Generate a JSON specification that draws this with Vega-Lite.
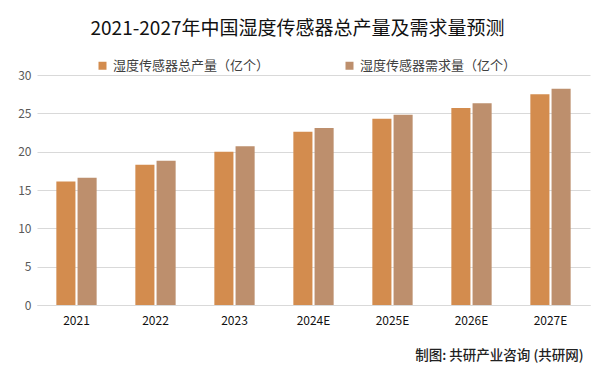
{
  "$schema": "https://vega.github.io/schema/vega-lite/v6.json",
  "width": 553,
  "height": 230,
  "autosize": {"type": "none"},
  "padding": {"left": 37, "top": 75, "right": 13, "bottom": 67},
  "background": "#ffffff",
  "title": {
    "text": "2021-2027年中国湿度传感器总产量及需求量预测",
    "font": "Noto Sans CJK SC",
    "fontSize": 19,
    "fontWeight": "normal",
    "color": "#111111",
    "anchor": "middle",
    "dx": -16,
    "offset": 20
  },
  "data": {
    "values": [
      {"year": "2021", "series": "湿度传感器总产量（亿个）", "value": 16.1},
      {"year": "2021", "series": "湿度传感器需求量（亿个）", "value": 16.6},
      {"year": "2022", "series": "湿度传感器总产量（亿个）", "value": 18.3},
      {"year": "2022", "series": "湿度传感器需求量（亿个）", "value": 18.8},
      {"year": "2023", "series": "湿度传感器总产量（亿个）", "value": 20.0},
      {"year": "2023", "series": "湿度传感器需求量（亿个）", "value": 20.7},
      {"year": "2024E", "series": "湿度传感器总产量（亿个）", "value": 22.6},
      {"year": "2024E", "series": "湿度传感器需求量（亿个）", "value": 23.1},
      {"year": "2025E", "series": "湿度传感器总产量（亿个）", "value": 24.3},
      {"year": "2025E", "series": "湿度传感器需求量（亿个）", "value": 24.8},
      {"year": "2026E", "series": "湿度传感器总产量（亿个）", "value": 25.7},
      {"year": "2026E", "series": "湿度传感器需求量（亿个）", "value": 26.3},
      {"year": "2027E", "series": "湿度传感器总产量（亿个）", "value": 27.5},
      {"year": "2027E", "series": "湿度传感器需求量（亿个）", "value": 28.2}
    ]
  },
  "mark": {"type": "bar"},
  "encoding": {
    "x": {
      "field": "year",
      "type": "nominal",
      "sort": null,
      "scale": {"paddingInner": 0.49, "paddingOuter": 0.245},
      "axis": {
        "title": "制图: 共研产业咨询 (共研网)",
        "titleAnchor": "end",
        "titleX": 546,
        "titleAlign": "right",
        "titleFont": "Noto Sans CJK SC",
        "titleFontSize": 13.5,
        "titleFontWeight": 500,
        "titleColor": "#222222",
        "titlePadding": 22,
        "labelAngle": 0,
        "labelFont": "Noto Sans CJK SC",
        "labelFontSize": 12,
        "labelColor": "#111111",
        "labelPadding": 10,
        "ticks": false,
        "domainColor": "#D9D9D9",
        "grid": false
      }
    },
    "xOffset": {
      "field": "series",
      "type": "nominal",
      "scale": {"paddingInner": 0.1}
    },
    "y": {
      "field": "value",
      "type": "quantitative",
      "scale": {"domain": [0, 30]},
      "axis": {
        "title": null,
        "values": [0, 5, 10, 15, 20, 25, 30],
        "labelFont": "Noto Sans CJK SC",
        "labelFontSize": 12,
        "labelColor": "#595959",
        "labelPadding": 6,
        "ticks": false,
        "domain": false,
        "gridColor": "#D9D9D9",
        "gridWidth": 1
      }
    },
    "color": {
      "field": "series",
      "type": "nominal",
      "scale": {"range": ["#D38C4E", "#BD8F6D"]},
      "legend": {
        "title": null,
        "orient": "none",
        "legendX": 59,
        "legendY": -16,
        "direction": "horizontal",
        "symbolType": "square",
        "symbolSize": 64,
        "symbolStrokeWidth": 0,
        "labelOffset": 4,
        "labelFont": "Noto Sans CJK SC",
        "labelFontSize": 13,
        "labelColor": "#404040",
        "labelLimit": 220,
        "columnPadding": 73
      }
    }
  },
  "config": {"view": {"stroke": null}}
}
